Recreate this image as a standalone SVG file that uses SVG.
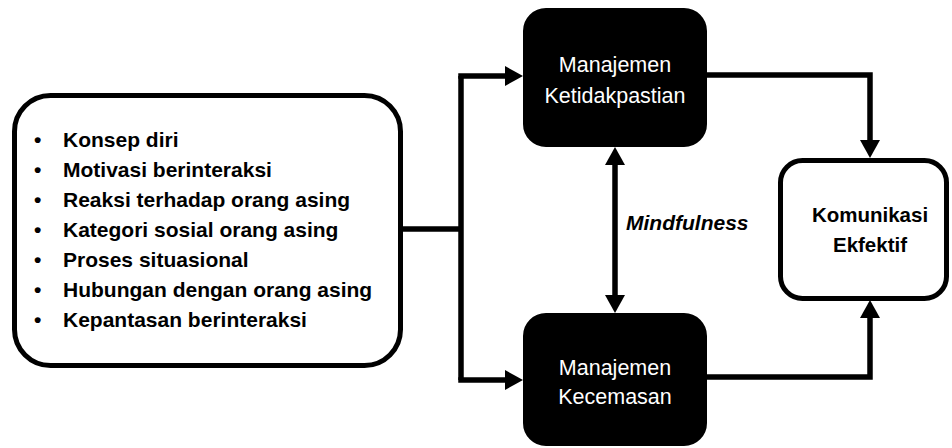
<svg xmlns="http://www.w3.org/2000/svg" width="952" height="448" viewBox="0 0 952 448">
<style>
.box{fill:#fff;stroke:#000;stroke-width:5}
.dark{fill:#000;stroke:#000;stroke-width:2}
.line{fill:none;stroke:#000;stroke-width:5.5;stroke-linejoin:miter}
.list{font-family:"Liberation Sans",Arial,sans-serif;font-weight:bold;font-size:21px;fill:#000}
.wt{font-family:"Liberation Sans",Arial,sans-serif;font-size:21.5px;fill:#fff;text-anchor:middle}
.bt{font-family:"Liberation Sans",Arial,sans-serif;font-weight:bold;font-size:20.5px;fill:#000;text-anchor:middle}
.it{font-family:"Liberation Sans",Arial,sans-serif;font-weight:bold;font-style:italic;font-size:21px;fill:#000}
</style>
<defs>
<marker id="ah" markerUnits="userSpaceOnUse" markerWidth="18" markerHeight="20" refX="0" refY="10" orient="auto-start-reverse" viewBox="0 0 18 20">
<path d="M0,0 L18,10 L0,20 Z" fill="#000"/>
</marker>
</defs>
<rect width="952" height="448" fill="#fff"/>
<g id="connectors">
<path class="line" d="M402,229 H461"/>
<path class="line" d="M461,76 V380"/>
<path class="line" d="M458.25,76 H505" marker-end="url(#ah)"/>
<path class="line" d="M458.25,380 H505" marker-end="url(#ah)"/>
<path class="line" d="M615,165 V295" marker-start="url(#ah)" marker-end="url(#ah)"/>
<path class="line" d="M707,75 H870 V140" marker-end="url(#ah)"/>
<path class="line" d="M707,377 H870 V318" marker-end="url(#ah)"/>
</g>
<g id="factors">
<rect class="box" x="14.5" y="95.5" width="386" height="270" rx="36"/>
<g class="list">
<text x="34" y="147">•</text><text x="63" y="147">Konsep diri</text>
<text x="34" y="177">•</text><text x="63" y="177">Motivasi berinteraksi</text>
<text x="34" y="207">•</text><text x="63" y="207">Reaksi terhadap orang asing</text>
<text x="34" y="237">•</text><text x="63" y="237">Kategori sosial orang asing</text>
<text x="34" y="267">•</text><text x="63" y="267">Proses situasional</text>
<text x="34" y="297">•</text><text x="63" y="297">Hubungan dengan orang asing</text>
<text x="34" y="327">•</text><text x="63" y="327">Kepantasan berinteraksi</text>
</g>
</g>
<g id="ketidakpastian">
<rect class="dark" x="524" y="9" width="182" height="137" rx="22"/>
<text class="wt" x="615" y="72">Manajemen</text>
<text class="wt" x="615" y="103">Ketidakpastian</text>
</g>
<g id="kecemasan">
<rect class="dark" x="524" y="314" width="182" height="131" rx="22"/>
<text class="wt" x="615" y="375">Manajemen</text>
<text class="wt" x="615" y="404">Kecemasan</text>
</g>
<g id="mindfulness-label">
<text class="it" x="626" y="230">Mindfulness</text>
</g>
<g id="komunikasi">
<rect class="box" x="780.5" y="160.5" width="166" height="138" rx="22"/>
<text class="bt" x="870" y="222">Komunikasi</text>
<text class="bt" x="870" y="252">Ekfektif</text>
</g>
</svg>
